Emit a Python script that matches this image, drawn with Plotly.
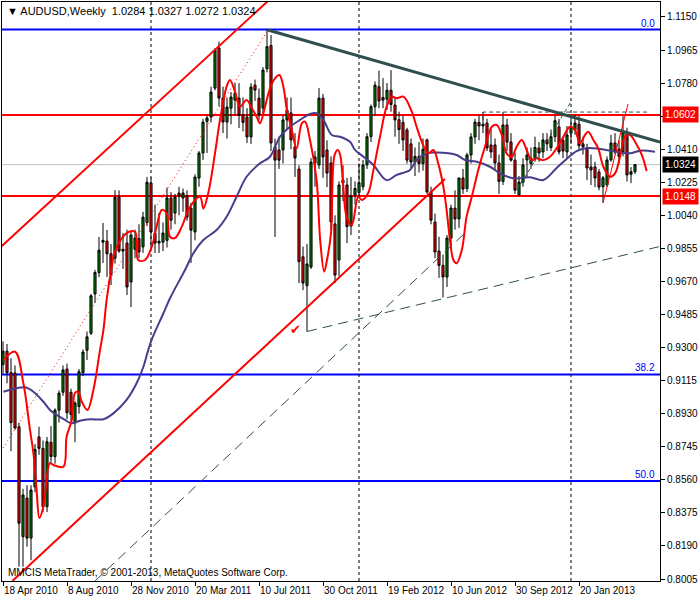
import plotly.graph_objects as go

# ---------------- data (weekly AUDUSD, bar index 0 = 18 Apr 2010) ----------------
bar_open = [0.9205,0.9280,0.9160,0.9158,0.8857,0.8242,0.8458,0.8234,0.8520,0.8800,
            0.8736,0.8410,0.8770,0.8690,0.8950,0.9050,0.9180,0.9050,0.8880,0.8970,
            0.9160,0.9285,0.9380,0.9600,0.9720,0.9890,0.9896,0.9825,0.9800,1.0143,
            0.9850,0.9885,0.9667,0.9850,0.9910,0.9863,1.0000,1.0221,0.9941,0.9885,
            0.9890,0.9900,1.0137,1.0053,1.0165,1.0137,1.0150,1.0080,0.9947,1.0249,
            1.0389,1.0565,1.0590,1.0752,1.0976,1.0696,1.0562,1.0640,1.0685,1.0696,
            1.0600,1.0590,1.0479,1.0769,1.0696,1.0640,1.0860,1.0990,1.0423,1.0406,
            1.0406,1.0574,1.0613,1.0423,1.0299,0.9808,0.9646,0.9751,1.0333,1.0322,
            1.0696,1.0406,1.0333,0.9992,0.9790,1.0237,1.0210,0.9980,1.0154,1.0167,
            1.0200,1.0322,1.0480,1.0648,1.0760,1.0700,1.0690,1.0740,1.0657,1.0575,
            1.0560,1.0518,1.0440,1.0338,1.0370,1.0330,1.0462,1.0171,1.0002,0.9840,
            0.9760,0.9695,0.9913,1.0080,1.0020,1.0249,1.0190,1.0378,1.0479,1.0560,
            1.0540,1.0557,1.0434,1.0434,1.0333,1.0230,1.0546,1.0451,1.0349,1.0154,
            1.0226,1.0350,1.0330,1.0360,1.0417,1.0395,1.0462,1.0420,1.0480,1.0535,
            1.0460,1.0395,1.0500,1.0518,1.0550,1.0440,1.0417,1.0311,1.0311,1.0283,
            1.0200,1.0210,1.0350,1.0445,1.0410,1.0395,1.0507,1.0270,1.0284]
bar_high = [0.9335,0.9320,0.9240,0.9200,0.8880,0.8510,0.8530,0.8530,0.8760,0.8857,
            0.8780,0.8800,0.8860,0.8960,0.9060,0.9200,0.9210,0.9070,0.9000,0.9180,
            0.9290,0.9390,0.9600,0.9735,0.9919,0.9997,0.9958,0.9880,1.0181,1.0180,
            0.9941,0.9960,0.9947,0.9960,0.9990,1.0060,1.0255,1.0250,1.0100,1.0053,
            1.0000,1.0195,1.0170,1.0160,1.0200,1.0190,1.0180,1.0110,1.0270,1.0400,
            1.0580,1.0600,1.0760,1.0975,1.1012,1.0760,1.0700,1.0730,1.0780,1.0780,
            1.0700,1.0640,1.0780,1.0800,1.0750,1.0870,1.1077,1.1049,1.0470,1.0480,
            1.0600,1.0700,1.0700,1.0500,1.0320,0.9865,0.9880,1.0360,1.0400,1.0752,
            1.0720,1.0460,1.0370,1.0040,1.0230,1.0320,1.0250,1.0255,1.0230,1.0330,
            1.0350,1.0500,1.0660,1.0790,1.0850,1.0808,1.0780,1.0853,1.0700,1.0620,
            1.0600,1.0530,1.0470,1.0420,1.0450,1.0470,1.0470,1.0200,1.0050,0.9920,
            0.9820,0.9930,1.0100,1.0180,1.0250,1.0300,1.0390,1.0500,1.0580,1.0600,
            1.0618,1.0580,1.0530,1.0470,1.0380,1.0618,1.0580,1.0500,1.0390,1.0260,
            1.0360,1.0420,1.0420,1.0480,1.0450,1.0500,1.0500,1.0520,1.0600,1.0580,
            1.0480,1.0540,1.0580,1.0600,1.0600,1.0480,1.0440,1.0380,1.0340,1.0300,
            1.0260,1.0370,1.0490,1.0500,1.0460,1.0595,1.0530,1.0310,1.0327]
bar_low = [0.9155,0.9100,0.8720,0.8840,0.8074,0.8074,0.8186,0.8110,0.8490,0.8700,
           0.8380,0.8380,0.8660,0.8650,0.8880,0.9030,0.8900,0.8890,0.8770,0.8930,
           0.9140,0.9230,0.9370,0.9550,0.9695,0.9773,0.9695,0.9650,0.9770,0.9830,
           0.9740,0.9594,0.9527,0.9800,0.9800,0.9830,0.9980,0.9846,0.9829,0.9829,
           0.9840,0.9860,0.9960,0.9990,1.0040,1.0060,1.0010,0.9773,0.9900,1.0200,
           1.0350,1.0389,1.0560,1.0740,1.0650,1.0500,1.0470,1.0550,1.0600,1.0529,
           1.0510,1.0445,1.0440,1.0680,1.0574,1.0600,1.0840,1.0400,0.9919,1.0300,
           1.0330,1.0520,1.0410,1.0255,0.9661,0.9622,0.9389,0.9740,1.0200,1.0300,
           1.0250,1.0198,0.9960,0.9661,0.9700,1.0120,0.9885,0.9930,1.0100,1.0150,
           1.0180,1.0300,1.0450,1.0600,1.0640,1.0640,1.0630,1.0620,1.0480,1.0440,
           1.0400,1.0330,1.0300,1.0260,1.0280,1.0290,1.0160,0.9990,0.9800,0.9690,
           0.9581,0.9640,0.9860,0.9960,0.9970,1.0160,1.0170,1.0330,1.0440,1.0460,
           1.0500,1.0400,1.0360,1.0290,1.0160,1.0210,1.0400,1.0340,1.0160,1.0148,
           1.0200,1.0250,1.0300,1.0340,1.0340,1.0360,1.0400,1.0400,1.0450,1.0380,
           1.0360,1.0360,1.0440,1.0490,1.0400,1.0380,1.0237,1.0210,1.0198,1.0180,
           1.0111,1.0200,1.0340,1.0380,1.0330,1.0370,1.0230,1.0220,1.0272]
bar_close = [0.9280,0.9160,0.8880,0.8850,0.8317,0.8475,0.8234,0.8503,0.8730,0.8736,
             0.8410,0.8773,0.8690,0.8950,0.9045,0.9175,0.8935,0.8925,0.8990,0.9165,
             0.9275,0.9360,0.9590,0.9720,0.9845,0.9900,0.9825,0.9710,1.0140,0.9840,
             0.9840,0.9639,0.9930,0.9913,0.9835,1.0030,1.0225,0.9947,0.9885,0.9895,
             0.9941,1.0137,1.0013,1.0143,1.0148,1.0165,1.0030,0.9957,1.0254,1.0389,
             1.0562,1.0585,1.0730,1.0965,1.0696,1.0562,1.0646,1.0702,1.0724,1.0600,
             1.0560,1.0479,1.0758,1.0741,1.0602,1.0853,1.0984,1.0445,1.0349,1.0349,
             1.0574,1.0629,1.0462,1.0361,0.9781,0.9661,0.9768,1.0338,1.0367,1.0696,
             1.0367,1.0277,1.0003,0.9706,1.0210,1.0221,0.9977,1.0148,1.0190,1.0223,
             1.0322,1.0480,1.0648,1.0769,1.0680,1.0685,1.0740,1.0660,1.0574,1.0520,
             1.0462,1.0349,1.0338,1.0370,1.0330,1.0410,1.0171,1.0013,0.9835,0.9760,
             0.9695,0.9913,1.0081,1.0020,1.0249,1.0187,1.0378,1.0479,1.0562,1.0540,
             1.0550,1.0417,1.0395,1.0333,1.0230,1.0546,1.0450,1.0349,1.0181,1.0226,
             1.0322,1.0378,1.0360,1.0420,1.0389,1.0462,1.0440,1.0480,1.0570,1.0395,
             1.0400,1.0490,1.0535,1.0557,1.0430,1.0423,1.0305,1.0294,1.0249,1.0198,
             1.0250,1.0350,1.0445,1.0395,1.0370,1.0507,1.0266,1.0284,1.0324]

# red moving average (bar position, price)
red_ma_x = [0.1,3,5.1,6.75,7.6,8.4,9.1,10.1,11.75,12.6,15.1,15.9,17.2,18,18.8,19.7,21.1,22.6,24.25,25.1,
            25.9,27.2,28,30.9,33,33.8,35.5,37.2,38.4,39.7,40.9,41.75,43,44.7,46.75,49.25,50.1,51.3,53,54.25,
            55.9,56.75,58,59.25,60.9,62.2,63.4,64.25,65.5,66.75,68,69.1,70.1,70.9,72.2,73.4,74.7,75.5,76.75,78.4,
            79.3,80.3,81,82,82.9,83.7,84.3,85,85.9,87.2,88.8,89.7,91.3,92.6,94.25,95.9,97.2,98.4,100.1,102.2,
            103.4,104.7,106.3,107.6,108.8,110.1,110.9,111.75,112.6,113.4,114.7,115.9,117.2,118.8,120.5,122.2,123.4,124.7,125.9,127.2,
            128.4,129.7,130.9,132.2,133.4,135.1,136.75,138.4,140.1,141.75,143,144.25,145.5,146.3,147.6,148.8,150.1,151.75,153,154.25,
            155.5,156.75,158,159.7,160.9]
red_ma_y = [0.9230,0.9277,0.9100,0.8839,0.8710,0.8503,0.8346,0.8410,0.8654,0.8643,0.8633,0.8801,0.8895,0.9046,0.9053,0.8997,0.8951,0.9063,0.9286,0.9398,
            0.9566,0.9753,0.9837,0.9941,0.9948,0.9790,0.9790,0.9865,0.9977,1.0070,1.0053,0.9920,0.9913,0.9977,1.0088,1.0144,1.0079,1.0163,1.0387,1.0574,
            1.0760,1.0797,1.0732,1.0648,1.0685,1.0639,1.0592,1.0555,1.0648,1.0751,1.0807,1.0825,1.0760,1.0639,1.0518,1.0415,1.0555,1.0564,1.0462,1.0237,
            0.9900,0.9725,0.9790,0.9941,1.0378,1.0406,1.0378,1.0221,1.0033,0.9986,1.0144,1.0126,1.0165,1.0293,1.0480,1.0648,1.0704,1.0695,1.0704,1.0620,
            1.0536,1.0452,1.0387,1.0406,1.0331,1.0200,1.0070,0.9902,0.9790,0.9772,0.9846,1.0033,1.0144,1.0293,1.0424,1.0536,1.0546,1.0490,1.0387,1.0368,
            1.0424,1.0462,1.0406,1.0349,1.0359,1.0349,1.0368,1.0415,1.0480,1.0536,1.0518,1.0443,1.0490,1.0508,1.0462,1.0415,1.0312,1.0256,1.0275,1.0368,
            1.0480,1.0490,1.0452,1.0378,1.0288]

# slate-blue moving average
blue_ma_x = [0.1,3.4,5.5,7.6,10.1,11.75,13.4,15.5,17.2,19.25,21.75,25.1,27.6,30.9,33.4,35.1,36.3,37.2,40.1,41.75,
             45.5,47.6,50.1,53.4,55.9,58.4,60.9,64.25,66.75,69.25,71.75,74.25,76.75,78.4,80.1,82.2,84.25,86.75,88,90.1,
             92.6,95.9,98.4,101.75,103.4,105.9,108.4,113.4,115.5,118.4,121.75,124.25,127.6,131.75,135.1,138.4,140.9,143.4,146.25,149.25,
             153.4,156.75,159.25,163]
blue_ma_y = [0.9053,0.9072,0.9078,0.9053,0.8997,0.8951,0.8923,0.8895,0.8876,0.8891,0.8899,0.8899,0.8932,0.9007,0.9100,0.9193,0.9286,0.9346,0.9492,0.9576,
             0.9734,0.9828,0.9902,0.9958,1.0032,1.0144,1.0256,1.0331,1.0368,1.0480,1.0536,1.0574,1.0607,1.0611,1.0574,1.0490,1.0480,1.0452,1.0406,1.0368,
             1.0322,1.0237,1.0266,1.0294,1.0350,1.0387,1.0391,1.0378,1.0350,1.0340,1.0312,1.0275,1.0247,1.0253,1.0238,1.0305,1.0355,1.0400,1.0417,1.0411,
             1.0396,1.0387,1.0402,1.0396]

# drawn objects (bar position, price)
chan_up_x, chan_up_y = [-0.75, 66.75], [0.9859, 1.1250]
chan_dn_x, chan_dn_y = [2.35, 110.5], [0.7994, 1.0243]
resist_x, resist_y = [66.25, 164.25], [1.1077, 1.0450]
support_x, support_y = [76, 164.25], [0.9390, 0.9866]
long_dash_x, long_dash_y = [23, 115.5], [0.7994, 0.9941]
steep_dash_x, steep_dash_y = [128.5, 142.25], [1.0182, 1.0685]
top_dash_x, top_dash_y = [120, 120, 161], [1.0574, 1.0618, 1.0618]
thin_red_x, thin_red_y = [150, 156.25], [1.0109, 1.0663]
dot_red_x, dot_red_y = [0, 66.25], [0.8738, 1.1077]

fib_levels = [1.1080, 0.9150, 0.8553]
fib_labels = ["0.0", "38.2", "50.0"]
red_levels = [1.0602, 1.0148]
bid_price = 1.0324
separators = [37, 89, 142]

x_tick_pos = [0, 16, 32, 48, 64, 80, 96, 112, 128, 144]
x_tick_text = ["18 Apr 2010", "8 Aug 2010", "28 Nov 2010", "20 Mar 2011", "10 Jul 2011",
               "30 Oct 2011", "19 Feb 2012", "10 Jun 2012", "30 Sep 2012", "20 Jan 2013"]
y_tick_pos = [0.8005,0.8190,0.8375,0.8560,0.8745,0.8930,0.9115,0.9300,0.9485,
              0.9670,0.9855,1.0040,1.0225,1.0410,1.0595,1.0780,1.0965,1.1150]
# 1.0595 sits under the 1.0602 price box, as in the reference
y_tick_text = ["0.8005","0.8190","0.8375","0.8560","0.8745","0.8930","0.9115","0.9300","0.9485",
               "0.9670","0.9855","1.0040","1.0225","1.0410","","1.0780","1.0965","1.1150"]

FONT = "Liberation Sans"
FS = 10
fig = go.Figure()

for lv in fib_levels:
    fig.add_hline(y=lv, line=dict(color="#0000FF", width=2), layer="below")
for lv in red_levels:
    fig.add_hline(y=lv, line=dict(color="#FF0000", width=2), layer="below")
fig.add_hline(y=bid_price, line=dict(color="#C0C0C0", width=1), layer="below")
for s in separators:
    fig.add_vline(x=s, line=dict(color="black", width=1, dash="3px,3px"), layer="below")

fig.add_trace(go.Candlestick(
    x=list(range(len(bar_open))), open=bar_open, high=bar_high, low=bar_low, close=bar_close,
    increasing=dict(line=dict(color="black", width=1), fillcolor="#008000"),
    decreasing=dict(line=dict(color="black", width=1), fillcolor="#FF0000"),
    whiskerwidth=0, hoverinfo="skip", showlegend=False))

def line(xs, ys, color, width, dash="solid", shape="linear"):
    fig.add_trace(go.Scatter(x=xs, y=ys, mode="lines", hoverinfo="skip", showlegend=False,
                             line=dict(color=color, width=width, dash=dash, shape=shape)))

line(blue_ma_x, blue_ma_y, "#483D8B", 2, shape="spline")
line(red_ma_x, red_ma_y, "#FF0000", 2, shape="spline")
line(chan_up_x, chan_up_y, "#FF0000", 2)
line(chan_dn_x, chan_dn_y, "#FF0000", 2)
line(resist_x, resist_y, "#2F4F4F", 3)
line(support_x, support_y, "#2F4F4F", 1, dash="10px,6px")
line(long_dash_x, long_dash_y, "#2F4F4F", 1, dash="10px,6px")
line(steep_dash_x, steep_dash_y, "#2F4F4F", 1, dash="4px,3px")
line(top_dash_x, top_dash_y, "#2F4F4F", 1, dash="4px,3px")
line(thin_red_x, thin_red_y, "#FF0000", 1)
line(dot_red_x, dot_red_y, "#FF0000", 1, dash="1px,3px")

ann = []
for lv, lab in zip(fib_levels, fib_labels):
    ann.append(dict(x=1, xref="paper", y=lv, yref="y", text=lab, showarrow=False,
                    xanchor="right", yanchor="bottom", xshift=-3, yshift=-1,
                    font=dict(family=FONT, size=FS, color="#0000FF")))
for lv, col in [(1.0602, "#FF0000"), (1.0148, "#FF0000"), (bid_price, "#000000")]:
    ann.append(dict(x=1, xref="paper", y=lv, yref="y", text=f"{lv:.4f}", showarrow=False,
                    xanchor="left", yanchor="middle", xshift=2, bgcolor=col, borderpad=2,
                    font=dict(family=FONT, size=FS, color="white")))
ann.append(dict(x=0, xref="paper", y=1, yref="paper", text="▼ AUDUSD,Weekly  1.0284 1.0327 1.0272 1.0324",
                showarrow=False, xanchor="left", yanchor="top", xshift=3, yshift=-1,
                font=dict(family=FONT, size=11, color="black")))
ann.append(dict(x=0, xref="paper", y=0, yref="paper",
                text="MMCIS MetaTrader, © 2001-2013, MetaQuotes Software Corp.",
                showarrow=False, xanchor="left", yanchor="bottom", xshift=4, yshift=1,
                font=dict(family=FONT, size=FS, color="black")))
ann.append(dict(x=73, y=0.9405, text="✔", showarrow=False, font=dict(size=13, color="#FF0000")))

fig.update_layout(
    width=700, height=600, margin=dict(l=2, r=40, t=2, b=19),
    paper_bgcolor="white", plot_bgcolor="white", boxgap=0.25,
    annotations=ann, showlegend=False,
    xaxis=dict(range=[-0.25, 164.25], rangeslider=dict(visible=False), showgrid=False, zeroline=False,
               tickvals=x_tick_pos, ticktext=x_tick_text, ticks="outside", ticklen=4, tickcolor="black",
               tickangle=0, ticklabelposition="outside right", showline=True, linecolor="black",
               linewidth=1, mirror=True, automargin=False,
               tickfont=dict(family=FONT, size=FS, color="black")),
    yaxis=dict(range=[0.79938, 1.12339], side="right", showgrid=False, zeroline=False,
               tickvals=y_tick_pos, ticktext=y_tick_text, ticks="outside", ticklen=4, tickcolor="black",
               showline=True, linecolor="black", linewidth=1, mirror=True, automargin=False,
               tickfont=dict(family=FONT, size=FS, color="black")),
)

fig.write_html("out.html", config={"displayModeBar": False},
               post_script="document.body.style.margin='0px';document.body.style.overflow='hidden';")
